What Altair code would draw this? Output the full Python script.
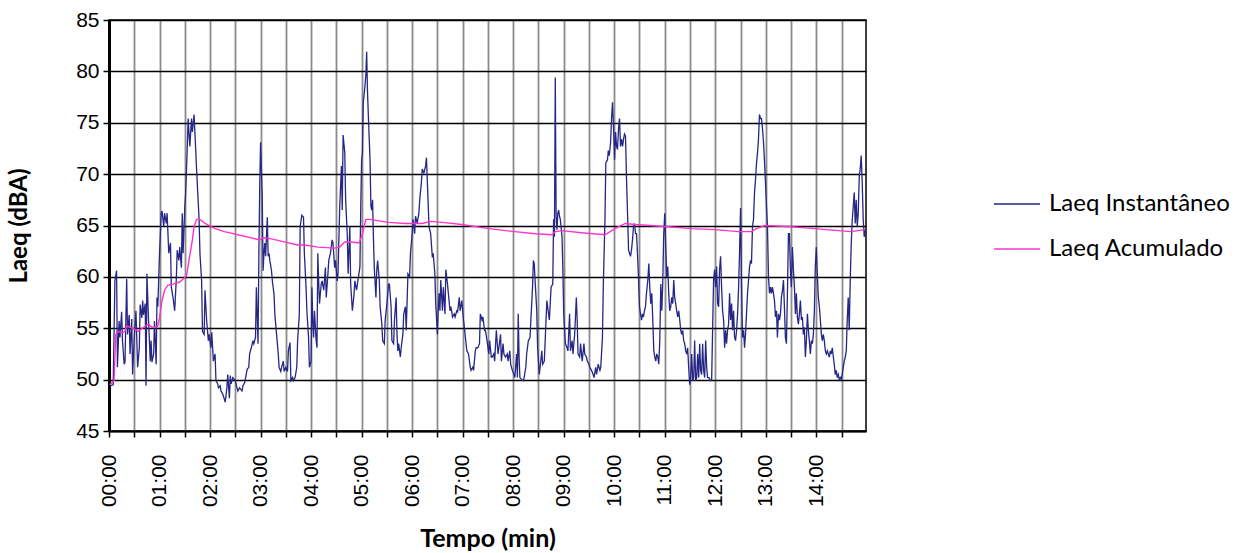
import altair as alt
import pandas as pd

# ---- data (time in seconds, level in dBA) ----
inst_t = [1,5,7,9,10,12,13,15,16,18,19,21,22,24,25,27,28,30,32,34,36,37,39,40,41,43,44,45,47,49,50,51,53,54,56,57,58,60,62,63,65,66,68,69,71,73,74,76,78,80,81,83,84,86,87,88,90,91,93,94,96,98,99,101,102,104,105,107,108,110,111,113,114,116,118,119,121,122,124,126,127,129,130,132,133,135,137,138,140,141,143,144,145,147,148,150,152,153,155,156,158,159,161,163,164,166,167,169,171,172,174,175,177,178,179,180,182,183,184,185,186,188,189,190,191,193,194,196,197,199,201,202,204,205,207,208,210,212,213,215,216,218,219,221,223,224,226,227,229,231,232,234,235,237,238,240,241,242,243,244,246,247,248,249,250,252,253,255,257,258,260,261,263,265,266,268,269,271,272,274,276,277,278,280,281,283,284,286,287,289,291,292,294,
          298,299,300,301,302,304,305,306,307,308,310,311,312,313,314,315,317,318,319,321,322,324,325,327,328,330,332,333,335,336,338,339,341,342,343,344,346,347,349,350,352,353,355,357,358,360,361,363,364,366,368,369,371,372,374,376,377,379,380,382,384,385,387,388,390,391,392,393,394,396,397,399,400,402,403,405,406,408,410,411,413,414,416,417,419,421,422,424,425,427,429,430,432,433,435,436,438,440,441,443,444,446,447,449,451,452,454,455,457,458,460,462,463,465,466,468,469,471,473,474,476,477,479,481,482,484,485,486,487,488,490,492,493,495,496,498,500,501,503,504,505,506,508,509,511,512,514,515,517,519,520,522,523,525,527,528,529,530,531,532,533,534,535,536,538,539,540,542,544,545,547,548,550,551,553,555,556,557,559,560,562,564,565,567,568,570,571,573,575,576,578,579,581,583,584,586,587,589,590,592,593,
          594.1,595.7,596.8,598.0,599.2,600.4,601.6,602.8,603.9,605.1,606.3,607.5,608.7,609.9,611.1,612.2,613.4,614.6,615.8,617.0,618.2,619.3,620.5,621.7,622.9,624.1,625.3,626.5,627.6,628.8,630.0,631.2,632.4,633.6,634.7,635.9,637.1,638.3,639.9,641.1,642.2,643.4,644.6,645.8,647.0,648.2,649.3,650.5,651.7,652.9,654.1,655.3,656.5,657.6,658.8,660.0,661.2,662.4,663.6,664.7,665.9,667.1,668.3,669.5,670.7,671.8,673.0,674.2,675.4,676.6,677.8,679.0,680.1,681.3,682.5,683.7,684.9,686.1,687.2,688.4,689.6,690.8,692.0,693.2,694.4,695.5,696.7,697.9,699.1,700.3,701.5,702.6,703.8,705.0,706.2,707.4,708.6,709.8,710.9,712.5,714.1,715.7,716.9,718.0,719.2,720.4,721.6,722.8,724.0,725.1,726.3,727.5,728.7,729.9,731.1,732.3,733.4,734.6,735.8,737.0,738.2,739.4,740.5,741.7,742.9,744.1,745.3,746.5,747.7,748.8,750.0,751.2,752.4,753.6,754.8,755.9,757.1,758.3,759.5,760.7,761.9,763.0,764.2,765.4,766.6,767.8,769.0,770.2,771.3,772.5,773.7,774.9,776.1,777.3,778.4,779.6,780.8,782.0,783.2,784.4,785.6,786.7,787.9,789.1,790.3,791.5,792.7,793.8,795.0,796.2,797.4,798.6,799.8,801.0,802.1,803.3,804.5,805.7,806.9,808.1,809.2,810.4,811.6,812.8,814.0,815.2,816.3,817.5,818.7,819.9,821.1,822.3,823.5,824.6,825.8,827.0,828.2,829.4,830.6,831.7,832.9,834.1,835.3,836.5,837.7,838.8,840.0,841.2,842.4,843.6,844.8,846.0,847.1,848.3,849.5,850.7,851.9,853.1,854.2,855.4,856.6,857.8,859.0,860.2,861.3,862.5,863.7,864.9,866.1,867.3,868.5,869.6,870.8,872.0,873.2,874.4,875.6,876.7,877.9,879.1,880.3,881.5,882.7,883.9,885.0,886.2,887.4,888.6,889.8,891.0,892.1,893.3,894.5,895.7,896.9,898.1]
inst_v = [49.4,49.5,59.6,60.6,51.2,55.7,54.1,56.6,53.8,51.5,51.7,59.8,54.4,56.3,52.5,55.9,50.5,54.1,56.7,51.2,53.1,57.3,56.0,57.7,56.3,57.4,49.4,60.3,55.7,51.8,53.8,51.7,52.5,55.7,51.5,58.0,57.1,62.3,66.2,66.4,64.9,66.2,65.2,66.2,62.3,63.3,59.0,58.0,56.7,59.9,62.6,61.6,62.9,60.9,66.2,62.3,66.8,68.1,72.7,75.4,72.7,75.4,74.1,75.8,74.1,70.5,68.8,65.6,62.3,59.6,54.7,54.4,58.7,55.7,53.8,54.4,53.1,54.6,51.8,52.5,49.9,49.6,49.2,49.4,48.9,48.6,48.1,47.8,49.2,50.5,48.2,50.4,49.6,50.2,50.1,49.9,49.2,48.9,49.2,49.1,48.9,49.4,49.7,50.5,51.0,51.2,52.5,53.1,53.8,53.5,54.1,59.0,53.5,62.3,68.8,73.1,67.8,60.6,62.3,63.3,62.0,65.8,62.0,62.3,61.6,60.6,59.6,58.3,56.3,54.4,52.5,51.2,50.8,51.2,51.8,50.8,51.2,50.8,52.8,53.6,49.9,50.2,49.9,50.2,51.2,53.8,56.3,64.9,66.0,65.8,62.3,59.0,56.7,54.1,51.2,51.8,59.0,55.7,54.1,56.7,53.8,53.1,62.3,59.6,57.4,59.3,59.6,58.7,60.9,58.0,60.3,61.6,62.3,63.6,63.3,60.9,61.6,59.6,60.3,66.8,70.8,66.5,73.8,72.1,67.6,64.0,60.3,64.9,59.3,56.7,58.3,59.6,58.7,
          61.0,66.9,71.4,72.1,77.0,78.6,79.6,81.9,78.0,75.7,71.4,66.9,66.5,67.5,63.9,61.0,58.0,60.7,61.6,59.7,57.1,55.4,53.8,53.5,55.8,57.4,59.3,59.3,57.1,53.8,53.5,55.8,58.0,54.4,52.8,53.5,52.2,53.1,54.4,56.4,57.1,54.8,60.3,60.0,62.3,64.2,65.6,64.2,65.9,65.2,66.2,67.5,69.2,70.5,70.1,70.8,71.6,67.2,64.9,64.2,61.9,62.3,60.3,57.4,54.4,56.7,58.4,56.7,59.7,56.7,59.0,56.4,60.7,59.3,58.4,56.7,57.1,56.1,56.4,56.1,56.7,56.6,58.0,56.7,57.7,55.8,55.1,53.5,52.8,52.5,51.2,50.9,51.2,50.9,52.8,53.1,53.1,53.5,56.4,55.8,56.1,54.8,54.8,53.8,52.5,53.8,52.2,52.2,52.5,51.8,54.8,52.5,53.1,54.4,51.8,53.5,52.5,52.2,52.5,51.8,52.8,51.5,50.9,50.5,50.2,52.5,50.2,56.4,52.2,50.2,50.0,49.9,50.2,51.2,52.5,53.8,54.1,55.8,59.0,61.6,61.3,59.7,56.7,53.1,50.5,51.2,52.8,51.5,51.8,55.8,57.7,56.4,55.8,59.0,59.3,65.6,63.9,79.4,65.9,64.6,66.2,66.5,65.9,65.6,63.9,60.7,56.4,53.5,53.1,52.8,56.4,52.8,53.8,52.5,54.4,58.0,55.8,52.5,52.2,53.5,51.8,53.5,52.5,52.2,51.8,51.5,51.2,50.9,50.5,50.2,51.2,50.5,51.5,50.9,51.2,54.1,59.0,65.6,71.1,71.4,72.3,
          71.8,73.1,75.4,77.0,74.4,71.4,74.1,72.7,72.4,74.4,75.4,72.7,73.4,72.7,73.4,73.9,73.7,69.5,66.2,62.6,62.3,62.0,62.6,63.6,64.9,65.2,64.2,64.2,62.3,60.0,57.1,56.4,55.8,56.4,56.1,56.7,57.1,58.4,59.7,61.3,59.0,57.4,58.4,55.8,52.8,52.2,51.8,52.5,52.2,51.5,53.8,59.3,56.7,59.3,64.2,66.2,62.9,60.0,61.0,58.4,56.7,57.1,58.0,57.4,59.7,58.0,57.4,56.7,56.1,56.7,55.8,54.8,54.4,54.8,53.8,53.5,52.8,52.5,53.1,51.2,49.5,50.2,52.5,49.9,50.2,53.8,49.9,50.2,52.5,50.2,53.5,50.9,50.5,53.5,50.9,50.2,53.8,51.2,50.2,50.2,49.9,50.0,55.1,59.7,60.7,59.0,61.0,57.4,57.1,60.7,62.0,59.0,56.7,55.8,53.1,54.8,53.5,54.8,55.4,58.4,55.8,57.4,54.8,56.7,54.1,53.8,54.8,56.4,59.0,62.3,66.7,59.0,54.1,54.8,53.1,54.4,56.4,58.4,59.7,61.0,61.6,61.3,64.9,65.6,68.2,69.5,71.1,72.1,73.4,75.8,75.4,75.4,74.4,73.1,71.4,69.2,66.9,64.9,60.0,58.4,59.0,58.4,59.0,58.4,57.7,56.1,56.7,54.1,56.4,55.8,56.4,58.0,58.7,59.7,57.1,54.1,53.5,58.4,64.2,64.2,60.7,59.0,62.9,60.7,59.0,56.4,58.4,56.1,55.4,56.4,57.7,55.8,56.1,54.4,55.1,52.2,53.8,56.4,54.8,53.8,52.5,53.8,53.5,54.4,56.7,61.0,62.9,60.3,58.0,57.1,55.8,54.4,53.8,54.4,53.8,52.8,52.5,52.8,52.5,52.2,52.8,52.5,53.1,52.2,51.5,50.5,50.9,50.2,50.5,50.0,50.2,50.0,50.5,51.2,51.8,52.2,52.8,55.8,58.0,54.8,59.7,63.3,65.6,66.9,68.2,65.2,67.5,64.9,66.2,69.8,70.5,71.8,69.2,65.6,63.9,64.6]

acum_t = [1,6,8,10,13,14,17,19,21,25,31,35,41,47,51,54,58,60,63,66,70,76,80,84,88,92,95,99,101,104,108,114,126,137,153,169,179,183,193,208,224,232,248,268,274,280,287,297,301,305,309,317,332,352,364,372,382,396,419,451,482,506,526,530,538,561,589,601,613,625,660,692,720,747,763,769,779,806,838,866,881,898]
acum_v = [49.5,49.9,54.4,54.6,54.7,54.6,54.6,54.7,55.2,55.1,54.9,54.7,55.1,55.4,55.1,55.1,55.2,56.0,57.7,58.7,59.2,59.3,59.4,59.5,59.8,60.1,61.6,63.6,64.9,65.6,65.6,65.2,64.7,64.4,64.1,63.8,63.6,63.8,63.7,63.4,63.1,63.1,62.9,62.8,62.9,63.4,63.4,63.3,64.2,65.6,65.6,65.5,65.3,65.2,65.2,65.2,65.4,65.3,65.1,64.7,64.4,64.2,64.1,64.4,64.5,64.3,64.1,64.7,65.2,65.1,64.9,64.7,64.6,64.4,64.4,64.7,65.0,64.9,64.7,64.5,64.4,64.6]

series_names = ["Laeq Instantâneo", "Laeq Acumulado"]
series_colors = ["#262686", "#FF33CC"]
x_ticks = list(range(0, 900, 30))
y_ticks = [45, 50, 55, 60, 65, 70, 75, 80, 85]

df_inst = pd.DataFrame({"t": inst_t, "v": inst_v, "serie": series_names[0]})
df_acum = pd.DataFrame({"t": acum_t, "v": acum_v, "serie": series_names[1]})

x_enc = alt.X(
    "t:Q",
    scale=alt.Scale(domain=[0, 899], nice=False, zero=False),
    axis=alt.Axis(
        values=x_ticks,
        labelExpr="datum.value % 60 == 0 ? utcFormat(datum.value * 1000, '%M:%S') : ''",
        labelAngle=270,
        labelFont="Liberation Sans",
        labelFontSize=21,
        labelColor="black",
        labelPadding=17,
        labelOverlap=False,
        labelBound=False,
        labelFlush=False,
        grid=True,
        gridColor="#8c8c8c",
        gridWidth=1.8,
        domainColor="black",
        domainWidth=2,
        tickColor="black",
        tickWidth=1.5,
        tickSize=6,
        title="Tempo (min)",
        titleFont="Lato",
        titleFontSize=25,
        titleFontWeight="bold",
        titleColor="black",
        titleY=107,
        titleBaseline="middle",
    ),
)
y_enc = alt.Y(
    "v:Q",
    scale=alt.Scale(domain=[45, 85], nice=False, zero=False),
    axis=alt.Axis(
        values=y_ticks,
        labelFont="Liberation Sans",
        labelFontSize=21,
        labelColor="black",
        labelPadding=4,
        grid=True,
        gridColor="black",
        gridWidth=1.5,
        domainColor="black",
        domainWidth=3,
        tickColor="black",
        tickWidth=1.5,
        tickSize=6,
        title="Laeq (dBA)",
        titleFont="Lato",
        titleFontSize=24,
        titleFontWeight="bold",
        titleColor="black",
        titleX=-90,
        titleY=205.5,
        titleAngle=270,
        titleBaseline="middle",
    ),
)
color_enc = alt.Color(
    "serie:N",
    scale=alt.Scale(domain=series_names, range=series_colors),
    legend=alt.Legend(
        title=None,
        orient="none",
        legendX=884,
        legendY=160,
        padding=0,
        symbolType="stroke",
        symbolSize=2116,
        symbolStrokeWidth=1.5,
        labelFont="Lato",
        labelFontSize=24,
        labelColor="black",
        labelLimit=400,
        labelOffset=8,
        rowPadding=9,
    ),
)

inst = alt.Chart(df_inst).mark_line(strokeWidth=1.3).encode(x=x_enc, y=y_enc, color=color_enc)
acum = alt.Chart(df_acum).mark_line(strokeWidth=1.4).encode(x=x_enc, y=y_enc, color=color_enc)

chart = alt.layer(inst, acum).properties(
    width=757,
    height=411,
    autosize=alt.AutoSizeParams(type="none"),
    padding={"left": 109, "top": 20, "right": 383, "bottom": 122},
    background="white",
).configure_view(stroke="black", strokeWidth=1.5)

chart.save("out.html", embed_options={"renderer": "svg", "actions": False})
